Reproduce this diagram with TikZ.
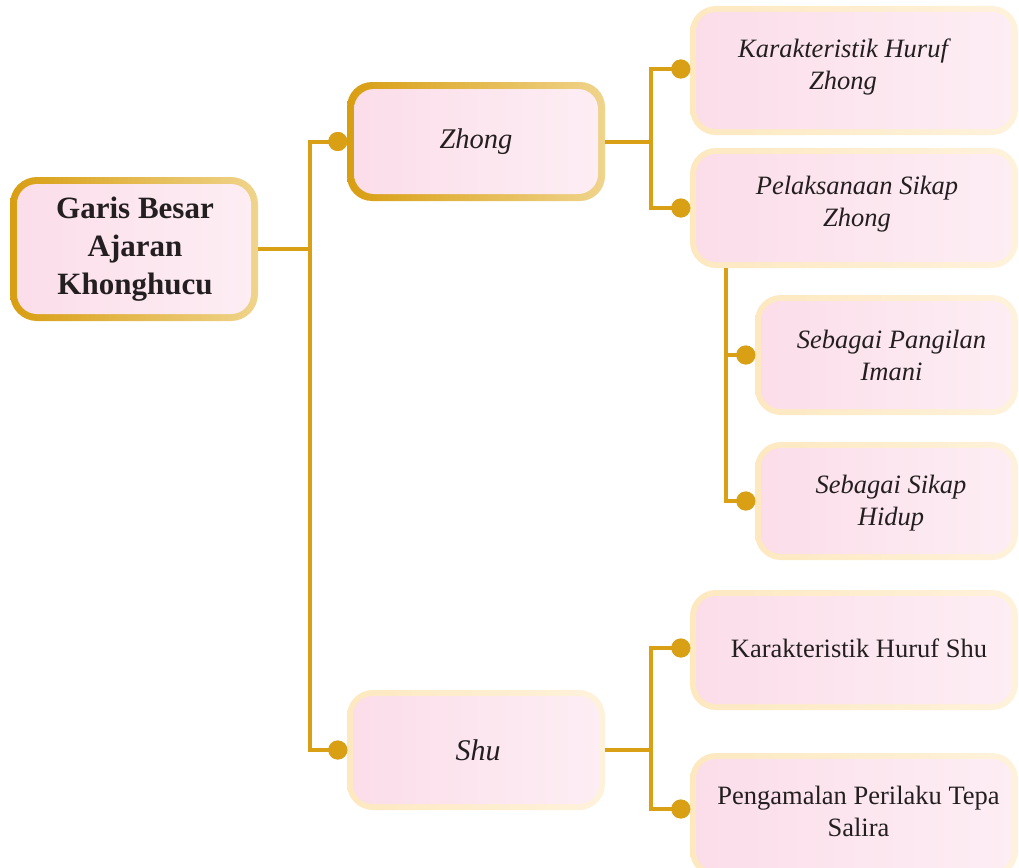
\documentclass[tikz,border=0pt]{standalone}
\usepackage{fontspec}
\setmainfont{Liberation Serif}
\definecolor{linegold}{RGB}{218,160,21}
\definecolor{borderA}{RGB}{216,158,18}
\definecolor{borderB}{RGB}{240,212,140}
\definecolor{creamA}{RGB}{253,232,192}
\definecolor{creamB}{RGB}{255,242,220}
\definecolor{pinkA}{RGB}{251,221,233}
\definecolor{pinkB}{RGB}{253,238,244}
\definecolor{textcol}{RGB}{35,31,32}
\begin{document}
\begin{tikzpicture}[x=1pt,y=-1pt,
  goldbox/.style={rounded corners=27pt, inner sep=0pt, left color=borderA, right color=borderB,
    path picture={\shade[left color=pinkA,right color=pinkB,rounded corners=20pt]
      ([shift={(7pt,-7pt)}]path picture bounding box.north west) rectangle
      ([shift={(-7pt,7pt)}]path picture bounding box.south east);}},
  creambox/.style={rounded corners=26pt, inner sep=0pt, left color=creamA, right color=creamB,
    path picture={\shade[left color=pinkA,right color=pinkB,rounded corners=20pt]
      ([shift={(6pt,-6pt)}]path picture bounding box.north west) rectangle
      ([shift={(-6pt,6pt)}]path picture bounding box.south east);}},
  conn/.style={draw=linegold, line width=4pt},
  dot/.style={circle, fill=linegold, minimum size=19pt, inner sep=0pt},
  ctext/.style={align=center, inner sep=0pt, text=textcol},
  ital/.style={font=\itshape\fontsize{26.5}{32}\selectfont},
  upr/.style={font=\fontsize{26.5}{32}\selectfont}
]
\useasboundingbox (0,0) rectangle (1019,867);
\clip (0,0) rectangle (1019,867);

% boxes
\node[goldbox, minimum width=248pt, minimum height=144pt] (root) at (134,249) {};
\node[goldbox, rounded corners=25pt, minimum width=258pt, minimum height=119pt] (zh) at (476,141.5) {};
\node[creambox, minimum width=258pt, minimum height=120pt] (sh) at (476,750) {};
\node[creambox, minimum width=328pt, minimum height=129pt] (kz) at (854,70.5) {};
\node[creambox, minimum width=328pt, minimum height=120pt] (pk) at (854,208) {};
\node[creambox, minimum width=263pt, minimum height=120pt] (sp) at (886.5,355) {};
\node[creambox, minimum width=263pt, minimum height=118pt] (ss) at (886.5,501) {};
\node[creambox, minimum width=328pt, minimum height=120pt] (ks) at (854,650) {};
\node[creambox, minimum width=328pt, minimum height=124pt] (pg) at (854,815) {};

% texts
\node[ctext, font=\bfseries\fontsize{31}{38}\selectfont] (troot) at ([xshift=1pt]root.center) {Garis Besar\\Ajaran\\Khonghucu};
\node[ctext, font=\itshape\fontsize{28.5}{34}\selectfont] (tzh) at (zh.center) {Zhong};
\node[ctext, font=\itshape\fontsize{30}{34}\selectfont] (tsh) at ([xshift=2pt]sh.center) {Shu};
\node[ctext, ital] (tkz) at ([shift={(-11pt,4pt)}]kz.center) {Karakteristik Huruf\\Zhong};
\node[ctext, ital] (tpk) at ([shift={(3pt,4pt)}]pk.center) {Pelaksanaan Sikap\\Zhong};
\node[ctext, ital] (tsp) at ([shift={(5pt,0pt)}]sp.center) {Sebagai Pangilan\\Imani};
\node[ctext, ital] (tss) at ([shift={(4.5pt,-2pt)}]ss.center) {Sebagai Sikap\\Hidup};
\node[ctext, upr] (tks) at ([shift={(5pt,2pt)}]ks.center) {Karakteristik Huruf Shu};
\node[ctext, upr] (tpg) at ([shift={(4.5pt,4pt)}]pg.center) {Pengamalan Perilaku Tepa\\Salira};

% dots
\node[dot] (dz) at ([xshift=-9pt]zh.west) {};
\node[dot] (ds) at ([xshift=-9pt]sh.west) {};
\node[dot] (d1) at ([shift={(-9pt,1.5pt)}]kz.west) {};
\node[dot] (d2) at ([xshift=-9pt]pk.west) {};
\node[dot] (d3) at ([xshift=-9pt]sp.west) {};
\node[dot] (d4) at ([xshift=-9pt]ss.west) {};
\node[dot] (d5) at ([shift={(-9pt,2pt)}]ks.west) {};
\node[dot] (d6) at ([shift={(-9pt,6pt)}]pg.west) {};

% connectors
\coordinate (c726) at (726,0);
\draw[conn] (root.east) -- ++(52,0) coordinate (j1) |- (dz.center);
\draw[conn] (j1) |- (ds.center);
\draw[conn] (zh.east) -- ++(46,0) coordinate (j2) |- (d1.center);
\draw[conn] (j2) |- (d2.center);
\draw[conn] (pk.south -| c726) coordinate (j3) |- (d3.center);
\draw[conn] (j3) |- (d4.center);
\draw[conn] (sh.east) -- ++(46,0) coordinate (j4) |- (d5.center);
\draw[conn] (j4) |- (d6.center);

% redraw dots on top
\foreach \d in {dz,ds,d1,d2,d3,d4,d5,d6} \fill[linegold] (\d.center) circle (9.5pt);
\end{tikzpicture}
\end{document}
